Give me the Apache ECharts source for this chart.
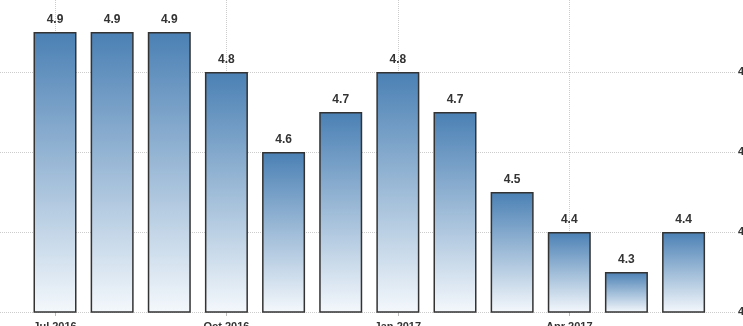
<!DOCTYPE html>
<html>
<head>
<meta charset="utf-8">
<script src="https://cdn.jsdelivr.net/npm/echarts@6/dist/echarts.min.js"></script>
<style>html,body{margin:0;padding:0;background:#fff}#c{width:743px;height:326px}</style>
</head>
<body>
<div id="c"></div>
<script>
const months = ["Jul 2016","Aug 2016","Sep 2016","Oct 2016","Nov 2016","Dec 2016","Jan 2017","Feb 2017","Mar 2017","Apr 2017","May 2017","Jun 2017"];
const values = [4.9, 4.9, 4.9, 4.8, 4.6, 4.7, 4.8, 4.7, 4.5, 4.4, 4.3, 4.4];
const xTickIdx = [0, 3, 6, 9];
const yTicks = [4.2, 4.4, 4.6, 4.8];

const chart = echarts.init(document.getElementById('c'));
chart.setOption({
  animation: false,
  grid: { left: 0, right: 8, top: 0, bottom: 14, containLabel: false, outerBoundsMode: 'none' },
  xAxis: {
    type: 'value', min: -0.9625, max: 11.9,
    axisLine: { show: false },
    axisTick: { show: true, length: 4, customValues: xTickIdx, lineStyle: { color: '#bbb' } },
    splitLine: { show: true, lineStyle: { type: 'dotted', color: '#ccc' } },
    axisLabel: {
      customValues: xTickIdx,
      margin: 9, color: '#333', fontSize: 11, fontWeight: 'bold', fontFamily: 'Arial, Liberation Sans, sans-serif',
      formatter: v => months[Math.round(v)] || ''
    }
  },
  yAxis: {
    type: 'value', position: 'right', min: 4.2, max: 4.98,
    axisLine: { show: false },
    axisTick: { show: false, customValues: yTicks },
    splitLine: { show: true, lineStyle: { type: 'dotted', color: '#ccc' } },
    axisLabel: { customValues: yTicks, margin: 3, color: '#333', fontSize: 11, fontWeight: 'bold', fontFamily: 'Arial, Liberation Sans, sans-serif', formatter: v => v.toFixed(1) }
  },
  series: [{
    type: 'bar',
    barWidth: 43,
    data: values.map((v, i) => [i, v]),
    itemStyle: {
      borderColor: '#333', borderWidth: 1.5,
      color: new echarts.graphic.LinearGradient(0, 0, 0, 1, [
        { offset: 0, color: '#4a80b4' },
        { offset: 1, color: '#f4f8fc' }
      ], false)
    },
    label: {
      show: true, position: 'top', distance: 6, color: '#333', fontSize: 12, fontWeight: 'bold',
      fontFamily: 'Arial, Liberation Sans, sans-serif',
      formatter: p => p.value[1].toFixed(1)
    }
  }]
});
</script>
</body>
</html>
